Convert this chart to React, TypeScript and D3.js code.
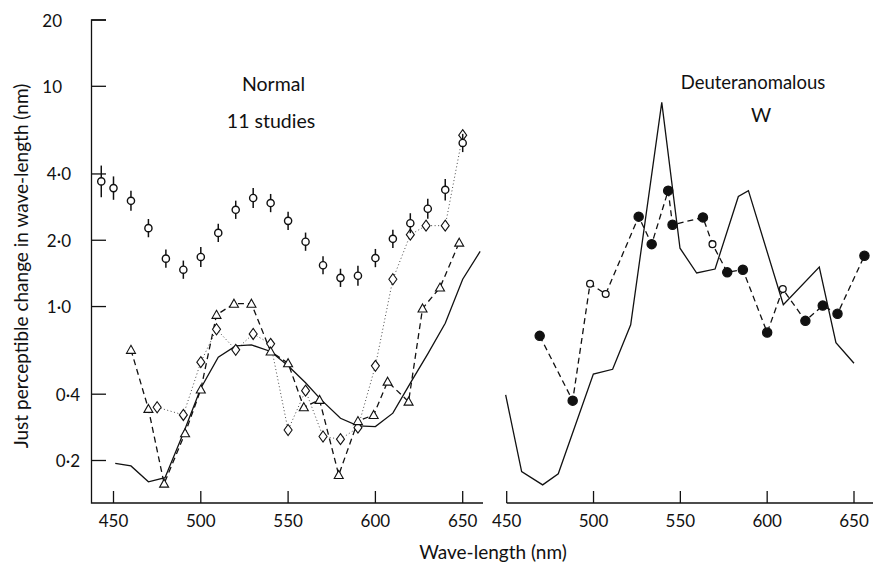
import React from "react";
import * as d3 from "d3";

// Normal observers, open circles with error bars (mean of 11 studies)
const normalWl = [443, 450, 460, 470, 480, 490, 500, 510, 520, 530, 540, 550, 560, 570, 580, 590, 600, 610, 620, 630, 640, 650];
const normalVal = [3.7, 3.45, 3.02, 2.27, 1.65, 1.47, 1.68, 2.16, 2.75, 3.11, 2.95, 2.45, 1.97, 1.54, 1.35, 1.38, 1.66, 2.03, 2.39, 2.78, 3.39, 5.53];
const normalErr = [1.18, 1.13, 1.11, 1.1, 1.1, 1.1, 1.11, 1.1, 1.1, 1.11, 1.1, 1.1, 1.1, 1.1, 1.1, 1.11, 1.1, 1.1, 1.11, 1.11, 1.12, 1.1];

// triangles, dashed
const triWl = [460, 470, 479, 491, 500, 509, 519, 529, 540, 550, 559, 568, 579, 590, 599, 607, 619, 627, 637, 648];
const triVal = [0.636, 0.343, 0.157, 0.266, 0.42, 0.917, 1.03, 1.03, 0.625, 0.553, 0.349, 0.377, 0.172, 0.302, 0.322, 0.456, 0.37, 0.98, 1.22, 1.95];

// diamonds, dotted
const diaWl = [475, 490, 500, 509, 520, 530, 540, 550, 560, 570, 580, 590, 600, 610, 620, 629, 640, 650];
const diaVal = [0.349, 0.322, 0.559, 0.789, 0.636, 0.751, 0.677, 0.275, 0.415, 0.257, 0.25, 0.282, 0.538, 1.33, 2.12, 2.33, 2.33, 6.0];

// solid curve, normal panel
const solidWl = [451, 460, 470, 479.5, 490, 500, 510, 520, 529, 540, 550, 560, 569, 580, 590, 600, 610, 620, 630, 640, 650, 660];
const solidVal = [0.194, 0.189, 0.16, 0.167, 0.266, 0.426, 0.589, 0.663, 0.67, 0.625, 0.539, 0.451, 0.377, 0.311, 0.287, 0.285, 0.328, 0.449, 0.61, 0.84, 1.33, 1.78];

// deuteranomalous W, solid line
const deutLineWl = [449.4, 458.6, 470.7, 479.7, 499.9, 511, 521.4, 539.3, 549.8, 559.4, 570, 583.4, 589.2, 609.3, 630, 639.6, 650];
const deutLineVal = [0.397, 0.178, 0.155, 0.174, 0.494, 0.519, 0.826, 8.46, 1.84, 1.42, 1.48, 3.16, 3.36, 1.02, 1.51, 0.686, 0.553];

// deuteranomalous W, dashed with circles
const deutWl = [469, 488, 498, 507, 526, 533.5, 543, 545.5, 563, 568.5, 577, 586, 600, 609, 622, 632, 640.5, 656];
const deutVal = [0.736, 0.374, 1.27, 1.14, 2.56, 1.92, 3.36, 2.35, 2.54, 1.92, 1.43, 1.47, 0.762, 1.2, 0.861, 1.01, 0.927, 1.7];
const deutOpen = [false, false, true, true, false, false, false, false, false, true, false, false, false, true, false, false, false, false];

const yTicks = [20, 10, 4, 2, 1, 0.4, 0.2];
const yTickText = ["20", "10", "4·0", "2·0", "1·0", "0·4", "0·2"];
const xTicks = [450, 500, 550, 600, 650];

const zip = (xs: number[], ys: number[]) => xs.map((x, i) => [x, ys[i]] as [number, number]);

export default function App() {
  const font = "Lato, 'Open Sans', sans-serif";
  const y = d3.scaleLog().domain([0.2, 20]).range([460.5, 20]);
  const xL = d3.scaleLinear().domain([450, 650]).range([113.5, 462.7]);
  const xR = d3.scaleLinear().domain([450, 650]).range([506.7, 854]);
  const axisY = 503;

  const lineL = d3.line<[number, number]>().x((d) => xL(d[0])).y((d) => y(d[1]));
  const lineR = d3.line<[number, number]>().x((d) => xR(d[0])).y((d) => y(d[1]));

  const tri = (cx: number, cy: number) => `M${cx},${cy - 4.5}L${cx + 4.5},${cy + 3.5}L${cx - 4.5},${cy + 3.5}Z`;
  const dia = (cx: number, cy: number) => `M${cx},${cy - 5.5}L${cx + 4},${cy}L${cx},${cy + 5.5}L${cx - 4},${cy}Z`;
  const labelX = (v: number) => (v >= 10 ? 62 : v >= 1 ? 71 : 80);

  return (
    <svg width={874} height={565} style={{ position: "absolute", left: 0, top: 0, background: "#fff" }} fontFamily={font}>
      {/* axes */}
      <g stroke="#111" strokeWidth={1.3} fill="none">
        <path d={`M106,20H91.5V${axisY}H483`} />
        <path d={`M506.7,${axisY}H873`} />
        {yTicks.map((t) => <line key={t} x1={91.5} x2={106} y1={y(t)} y2={y(t)} />)}
        {xTicks.map((t) => <line key={"l" + t} x1={xL(t)} x2={xL(t)} y1={axisY} y2={axisY - 12} />)}
        {xTicks.map((t) => <line key={"r" + t} x1={xR(t)} x2={xR(t)} y1={axisY} y2={axisY - 12} />)}
      </g>
      <g fontSize={17} fill="#111">
        {yTicks.map((t, i) => (
          <text key={t} x={labelX(t)} y={y(t)} textAnchor="end" dominantBaseline="central">{yTickText[i]}</text>
        ))}
        {xTicks.map((t) => <text key={"l" + t} x={xL(t)} y={527} textAnchor="middle">{t}</text>)}
        {xTicks.map((t) => <text key={"r" + t} x={xR(t)} y={527} textAnchor="middle">{t}</text>)}
      </g>
      <text x={493} y={559} textAnchor="middle" fontSize={19} fill="#111">Wave-length (nm)</text>
      <text transform="translate(20,266) rotate(-90)" textAnchor="middle" dominantBaseline="central" fontSize={19} fill="#111">
        Just perceptible change in wave-length (nm)
      </text>
      <g fill="#111" textAnchor="middle">
        <text x={273.5} y={91} fontSize={19.5}>Normal</text>
        <text x={271} y={128} fontSize={19.5}>11 studies</text>
        <text x={753} y={89} fontSize={18.5}>Deuteranomalous</text>
        <text x={761} y={122} fontSize={19.5}>W</text>
      </g>

      {/* normal panel */}
      <path d={lineL(zip(solidWl, solidVal)) || ""} fill="none" stroke="#111" strokeWidth={1.3} />
      <path d={lineL(zip(diaWl, diaVal)) || ""} fill="none" stroke="#333" strokeWidth={0.9} strokeDasharray="1,2.5" />
      <path d={lineL(zip(triWl, triVal)) || ""} fill="none" stroke="#111" strokeWidth={1.3} strokeDasharray="6,4" />
      <g fill="#fff" stroke="#111" strokeWidth={1.1}>
        {diaWl.map((w, i) => <path key={"d" + i} d={dia(xL(w), y(diaVal[i]))} />)}
        {triWl.map((w, i) => <path key={"t" + i} d={tri(xL(w), y(triVal[i]))} />)}
        {normalWl.map((w, i) => (
          <g key={"n" + i}>
            <line x1={xL(w)} x2={xL(w)} y1={y(normalVal[i] * normalErr[i])} y2={y(normalVal[i] / normalErr[i])} strokeWidth={1.5} />
            <circle cx={xL(w)} cy={y(normalVal[i])} r={3.6} strokeWidth={1.4} />
          </g>
        ))}
      </g>

      {/* deuteranomalous panel */}
      <path d={lineR(zip(deutLineWl, deutLineVal)) || ""} fill="none" stroke="#111" strokeWidth={1.3} />
      <path d={lineR(zip(deutWl, deutVal)) || ""} fill="none" stroke="#111" strokeWidth={1.3} strokeDasharray="6,4" />
      {deutWl.map((w, i) => (
        <circle key={"w" + i} cx={xR(w)} cy={y(deutVal[i])} r={deutOpen[i] ? 3.4 : 4.6}
          fill={deutOpen[i] ? "#fff" : "#111"} stroke="#111" strokeWidth={1.3} />
      ))}
    </svg>
  );
}
